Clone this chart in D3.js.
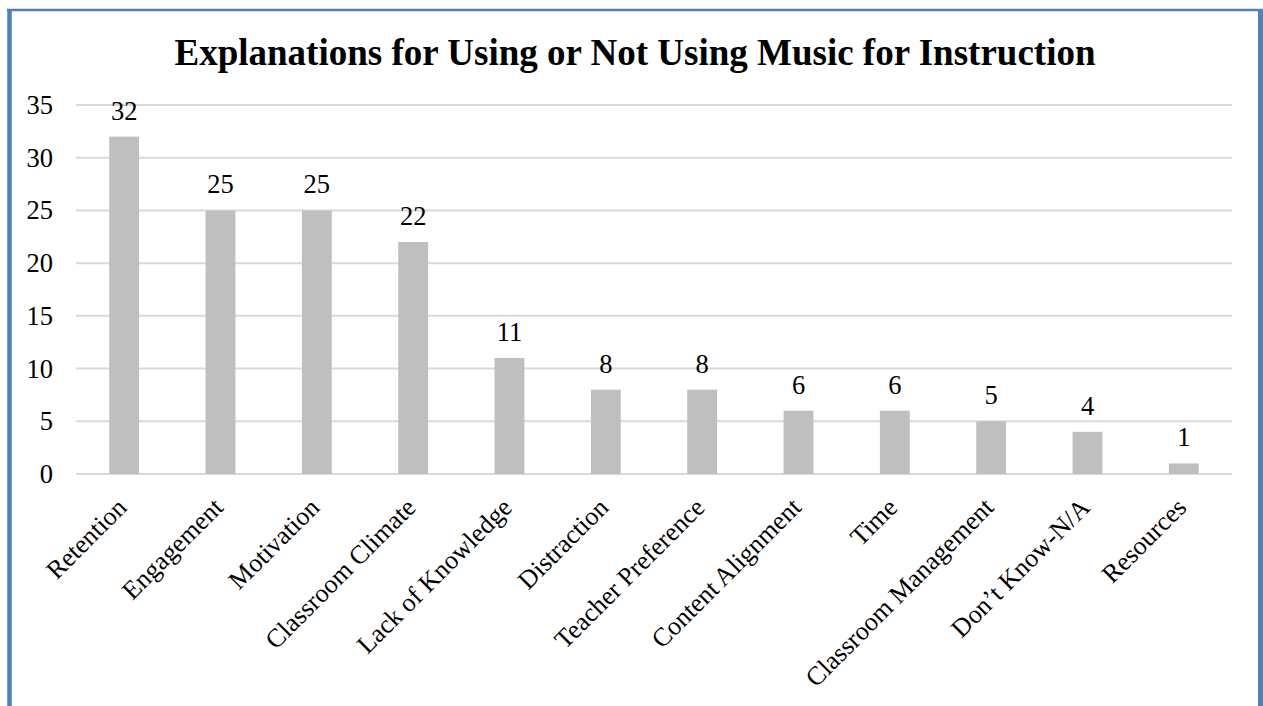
<!DOCTYPE html>
<html><head><meta charset="utf-8">
<script src="https://cdn.jsdelivr.net/npm/d3@7"></script>
<style>body{margin:0;background:#fff;}svg{display:block;}</style>
</head><body>
<svg id="c" width="1263" height="706"></svg>
<script>
const categories = ["Retention","Engagement","Motivation","Classroom Climate","Lack of Knowledge","Distraction","Teacher Preference","Content Alignment","Time","Classroom Management","Don\u2019t Know-N/A","Resources"];
const values = [32,25,25,22,11,8,8,6,6,5,4,1];
const yTicks = [0,5,10,15,20,25,30,35];
const title = "Explanations for Using or Not Using Music for Instruction";

const svg = d3.select("#c");
const font = "'Liberation Serif', 'Times New Roman', serif";
// border
const bc = "#4f81bd";
svg.append("line").attr("x1",7).attr("x2",1263).attr("y1",10).attr("y2",10).attr("stroke",bc).attr("stroke-width",2.5);
svg.append("line").attr("x1",9.5).attr("x2",9.5).attr("y1",9).attr("y2",706).attr("stroke",bc).attr("stroke-width",4.5);
svg.append("line").attr("x1",1260.5).attr("x2",1260.5).attr("y1",9).attr("y2",706).attr("stroke",bc).attr("stroke-width",5);

const x = d3.scaleBand().domain(categories).range([76,1232]).paddingInner(0.69).paddingOuter(0.345);
const y = d3.scaleLinear().domain([0,35]).range([474,105]);

const grid = svg.append("g");
grid.selectAll("line").data(yTicks).join("line")
  .attr("x1",76).attr("x2",1232).attr("y1",d=>y(d)).attr("y2",d=>y(d))
  .attr("stroke","#d9d9d9").attr("stroke-width",2);

const yAxis = svg.append("g").attr("transform","translate(76,0)")
  .call(d3.axisLeft(y).tickValues(yTicks).tickSize(0).tickPadding(23));
yAxis.select(".domain").remove();
yAxis.selectAll("text").style("font-family",font).attr("font-size",26.5).attr("fill","#000");

svg.append("g").selectAll("rect").data(values).join("rect")
  .attr("x",(d,i)=>x(categories[i])).attr("width",x.bandwidth())
  .attr("y",d=>y(d)).attr("height",d=>y(0)-y(d)).attr("fill","#bfbfbf");

svg.append("g").selectAll("text").data(values).join("text")
  .attr("x",(d,i)=>x(categories[i])+x.bandwidth()/2).attr("y",d=>y(d)-17)
  .attr("text-anchor","middle").style("font-family",font).attr("font-size",26.5).text(d=>d);

const xAxis = svg.append("g").attr("transform","translate(0,474)")
  .call(d3.axisBottom(x).tickSize(0).tickPadding(0));
xAxis.select(".domain").remove();
xAxis.selectAll("text").style("font-family",font).attr("font-size",26).attr("fill","#000")
  .attr("text-anchor","end").attr("y",0).attr("dy","0")
  .attr("transform","translate(4,35) rotate(-45)");

svg.append("text").attr("x",635).attr("y",65).attr("text-anchor","middle")
  .style("font-family",font).attr("font-weight","bold").attr("font-size",37).text(title);
</script>
</body></html>
